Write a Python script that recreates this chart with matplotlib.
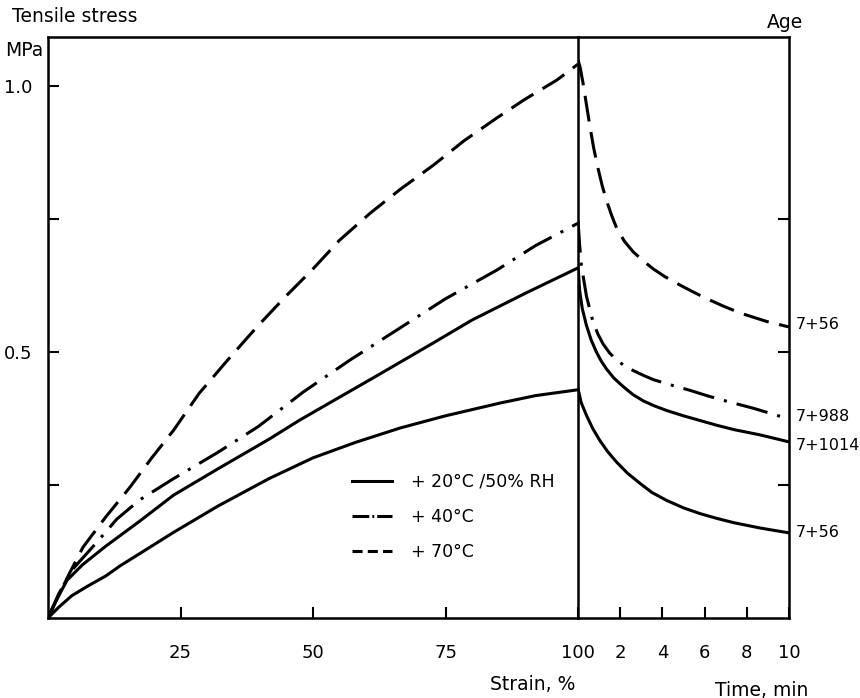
import matplotlib
matplotlib.use("Agg")
import matplotlib.pyplot as plt
from matplotlib.lines import Line2D

plt.rcParams['font.family'] = ['DejaVu Sans']

# ---- data: loading phase (strain %, stress MPa) ----
strain_20_low = [0, 2, 4.5, 7.5, 10.9, 13.6, 17.3, 23.7, 32, 41.7, 50, 58, 66.4, 75, 85.3, 92, 100]
stress_20_low = [0, 0.02, 0.042, 0.06, 0.079, 0.098, 0.121, 0.161, 0.21, 0.262, 0.301, 0.33, 0.357, 0.38, 0.404, 0.418, 0.429]

strain_20_up = [0, 1.5, 3.6, 6.5, 10.9, 17.3, 23.7, 32, 41.7, 47.5, 55, 62, 72.7, 80, 90, 100]
stress_20_up = [0, 0.032, 0.071, 0.1, 0.135, 0.182, 0.231, 0.28, 0.336, 0.372, 0.415, 0.455, 0.517, 0.56, 0.61, 0.658]

strain_40 = [0, 2, 4.5, 9, 13, 17.3, 23.7, 32, 39.7, 48.2, 57, 66.4, 75, 84.7, 92, 100]
stress_40 = [0, 0.045, 0.09, 0.14, 0.186, 0.222, 0.262, 0.311, 0.36, 0.425, 0.485, 0.545, 0.6, 0.654, 0.7, 0.742]

strain_70 = [0, 2, 4, 6.6, 10.9, 15.4, 19.5, 23.7, 28.5, 34, 39.5, 44.9, 49.8, 55, 60.8, 66.5, 72.7, 78.5, 84.7, 90, 96, 100]
stress_70 = [0, 0.042, 0.083, 0.133, 0.19, 0.245, 0.3, 0.353, 0.422, 0.486, 0.548, 0.605, 0.654, 0.71, 0.761, 0.806, 0.851, 0.897, 0.94, 0.975, 1.011, 1.041]

# ---- data: relaxation phase (time min, stress MPa) ----
time_20_low = [0, 0.15, 0.4, 0.7, 1.03, 1.4, 1.83, 2.35, 2.94, 3.5, 4.2, 5.0, 5.8, 6.6, 7.4, 8.65, 10]
relax_20_low = [0.431, 0.405, 0.381, 0.356, 0.334, 0.313, 0.293, 0.272, 0.253, 0.236, 0.221, 0.207, 0.196, 0.187, 0.179, 0.169, 0.16]

time_20_up = [0, 0.08, 0.2, 0.4, 0.62, 0.87, 1.1, 1.35, 1.7, 2.14, 2.6, 3.1, 3.6, 4.2, 5.0, 5.8, 6.6, 7.4, 8.65, 10]
relax_20_up = [0.663, 0.615, 0.582, 0.55, 0.523, 0.5, 0.483, 0.468, 0.451, 0.435, 0.42, 0.408, 0.399, 0.39, 0.38, 0.371, 0.362, 0.354, 0.344, 0.331]

time_40 = [0, 0.08, 0.16, 0.4, 0.71, 0.95, 1.19, 1.5, 1.83, 2.2, 2.62, 3.1, 3.57, 4.4, 5.3, 6.1, 6.9, 8.33, 10]
relax_40 = [0.747, 0.7, 0.663, 0.605, 0.557, 0.533, 0.515, 0.498, 0.485, 0.474, 0.465, 0.456, 0.448, 0.438, 0.428, 0.418, 0.409, 0.394, 0.374]

time_70 = [0, 0.1, 0.24, 0.4, 0.56, 0.75, 0.95, 1.15, 1.35, 1.6, 1.83, 2.2, 2.62, 3.1, 3.57, 4.1, 4.68, 5.4, 6.11, 6.9, 7.7, 8.97, 10]
relax_70 = [1.049, 1.035, 1.005, 0.965, 0.925, 0.882, 0.845, 0.812, 0.785, 0.756, 0.733, 0.708, 0.688, 0.671, 0.656, 0.642, 0.629, 0.614, 0.6, 0.586, 0.573, 0.557, 0.547]

age_labels = ["7+56", "7+988", "7+1014", "7+56"]
age_label_y = [0.551, 0.378, 0.325, 0.16]

strain_ticks = [25, 50, 75, 100]
time_ticks = [2, 4, 6, 8, 10]
stress_ticks = [0.25, 0.5, 0.75, 1.0]
stress_ticklabels = ["", "0.5", "", "1.0"]
right_stress_ticks = [0.25, 0.5, 0.75]
legend_labels = ["+ 20°C /50% RH", "+ 40°C", "+ 70°C"]

# ---- figure ----
W, H = 860, 698
fig = plt.figure(figsize=(W / 100, H / 100), dpi=100)
x0, xdiv, x1 = 48, 578, 789
ybot, ytop = 618, 37
ax1 = fig.add_axes([x0 / W, 1 - ybot / H, (xdiv - x0) / W, (ybot - ytop) / H])
ax2 = fig.add_axes([xdiv / W, 1 - ybot / H, (x1 - xdiv) / W, (ybot - ytop) / H])
ax2.patch.set_visible(False)

lw = 2.2
dash = (0, (8.5, 3.5))
dashdot = (0, (10.5, 3.3, 1.0, 3.3))
fs = 12.5
fs_tick = 13
fs_title = 13.5

ax1.plot(strain_20_low, stress_20_low, color='black', lw=lw)
ax1.plot(strain_20_up, stress_20_up, color='black', lw=lw)
ax1.plot(strain_40, stress_40, color='black', lw=lw, linestyle=dashdot)
ax1.plot(strain_70, stress_70, color='black', lw=lw, linestyle=dash)

ax2.plot(time_20_low, relax_20_low, color='black', lw=lw)
ax2.plot(time_20_up, relax_20_up, color='black', lw=lw)
ax2.plot(time_40, relax_40, color='black', lw=lw, linestyle=dashdot)
ax2.plot(time_70, relax_70, color='black', lw=lw, linestyle=dash)

ax1.set_xlim(0, 100)
ax2.set_xlim(0, 10)
ax1.set_ylim(0, 1.092)
ax2.set_ylim(0, 1.092)

for ax in (ax1, ax2):
    for s in ax.spines.values():
        s.set_linewidth(1.8)
ax2.spines['left'].set_visible(False)

ax1.set_xticks(strain_ticks)
ax1.set_xticklabels([str(v) for v in strain_ticks])
ax2.set_xticks(time_ticks)
ax2.set_xticklabels([str(v) for v in time_ticks])
ax1.set_yticks(stress_ticks)
ax1.set_yticklabels(stress_ticklabels)
ax2.set_yticks(right_stress_ticks)

ax1.tick_params(axis='x', direction='in', length=8, width=1.5, pad=19, labelsize=fs_tick)
ax2.tick_params(axis='x', direction='in', length=8, width=1.5, pad=19, labelsize=fs_tick)
ax1.tick_params(axis='y', direction='in', length=8, width=1.5, pad=11, labelsize=fs_tick)
ax2.tick_params(axis='y', which='both', left=False, labelleft=False,
                right=True, labelright=False, direction='in', length=8, width=1.5)

for lab, yv in zip(age_labels, age_label_y):
    ax2.annotate(lab, xy=(10, yv), xytext=(5, 0), textcoords='offset points',
                 ha='left', va='center', fontsize=11.5, annotation_clip=False)

handles = [Line2D([], [], color='black', lw=lw),
           Line2D([], [], color='black', lw=lw, linestyle=(0, (5.5, 1.0, 0.6, 1.0))),
           Line2D([], [], color='black', lw=lw, linestyle=(0, (3.3, 1.7)))]
ax1.legend(handles, legend_labels, loc='upper left', bbox_to_anchor=(0.574, 0.25),
           frameon=False, fontsize=fs, handlelength=2.3, handletextpad=1.1,
           labelspacing=1.0, borderpad=0, borderaxespad=0)

fig.text(12 / W, 1 - 17 / H, "Tensile stress", fontsize=fs_title, va='center', ha='left')
fig.text(5 / W, 1 - 50 / H, "MPa", fontsize=fs_title, va='center', ha='left')
fig.text(767 / W, 1 - 22 / H, "Age", fontsize=fs_title, va='center', ha='left')
fig.text(533 / W, 1 - 685 / H, "Strain, %", fontsize=fs_title, va='center', ha='center')
fig.text(762 / W, 1 - 690 / H, "Time, min", fontsize=fs_title, va='center', ha='center')

fig.savefig("out.png", dpi=100)
